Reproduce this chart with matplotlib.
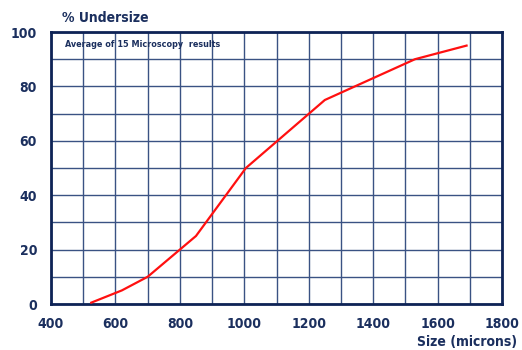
import matplotlib
matplotlib.use("Agg")
import matplotlib.pyplot as plt

size_microns = [525, 620, 700, 800, 850, 1005, 1250, 1530, 1690]
pct_undersize = [0.5, 5, 10, 20, 25, 50, 75, 90, 95]
x_ticks = [400, 600, 800, 1000, 1200, 1400, 1600, 1800]
y_ticks = [0, 20, 40, 60, 80, 100]

navy = "#1B2F5E"
grid_c = "#3A5283"
plt.rcParams['font.family'] = ['DejaVu Sans']
plt.rcParams['font.stretch'] = 'condensed'

fig = plt.figure(figsize=(5.22, 3.5), dpi=100)
ax = fig.add_axes([51/522, 1-304/350, (502-51)/522, (304-32)/350])
ax.plot(size_microns, pct_undersize, color="#FF1010", lw=1.6, zorder=3)
ax.set_xlim(400, 1800)
ax.set_ylim(0, 100)
ax.set_xticks(x_ticks, [str(v) for v in x_ticks])
ax.set_xticks(list(range(400, 1801, 100)), minor=True)
ax.set_yticks(y_ticks, [str(v) for v in y_ticks])
ax.set_yticks(list(range(0, 101, 10)), minor=True)
ax.grid(True, which='both', color=grid_c, lw=1.0)
ax.tick_params(which='both', length=0, colors=navy, labelsize=10)
ax.tick_params(axis='x', pad=9)
ax.tick_params(axis='y', pad=10)
for lab in ax.get_xticklabels() + ax.get_yticklabels():
    lab.set_fontweight('bold')
    lab.set_fontstretch('condensed')
for s in ax.spines.values():
    s.set_color("#0E2356")
    s.set_linewidth(2)

fig.text(62/522, 1-18/350, "% Undersize", color=navy, fontsize=10, fontweight='bold',
         fontstretch='condensed', va='center', ha='left')
fig.text(517/522, 1-342/350, "Size (microns)", color=navy, fontsize=10, fontweight='bold',
         fontstretch='condensed', va='center', ha='right')
ax.text(0.03, 0.955, "Average of 15 Microscopy  results", transform=ax.transAxes, color=navy,
        fontsize=6.5, fontweight='bold', fontstretch='condensed', va='center', ha='left')

fig.savefig("out.png", dpi=100)
